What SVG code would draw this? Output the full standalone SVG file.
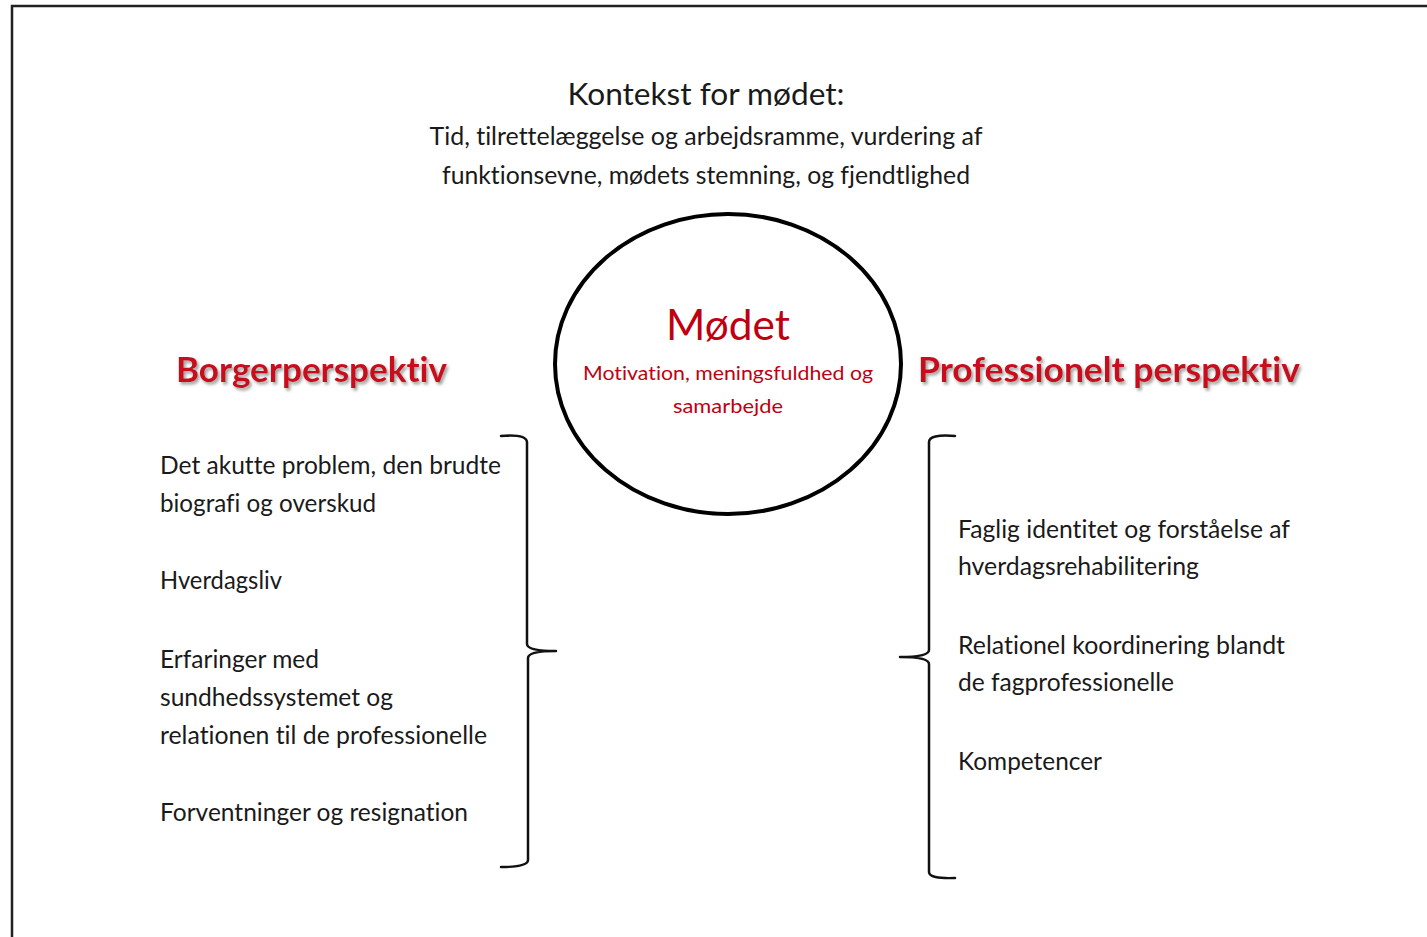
<svg xmlns="http://www.w3.org/2000/svg" width="1427" height="937" viewBox="0 0 1427 937">
<defs>
<filter id="shadow" x="-10%" y="-30%" width="120%" height="160%">
<feDropShadow dx="2" dy="2.5" stdDeviation="1.5" flood-color="#777" flood-opacity="0.7"/>
</filter>
</defs>
<style>
text{font-family:Lato,"Liberation Sans",sans-serif;font-variant-ligatures:none;}
.body{font-size:25px;fill:#1a1a1a;}
.ctx{font-size:25px;fill:#1a1a1a;text-anchor:middle;}
.title{font-size:30px;fill:#1a1a1a;text-anchor:middle;}
.head{font-size:34px;font-weight:bold;fill:#C8101E;filter:url(#shadow);}
.red{fill:#C00010;text-anchor:middle;}
.brace{fill:none;stroke:#111;stroke-width:2.5;stroke-linecap:round;stroke-linejoin:round;}
</style>
<rect width="1427" height="937" fill="#fff"/>
<path d="M12 937 V6 H1427" fill="none" stroke="#222" stroke-width="2.5"/>

<g id="context">
<text class="title" x="706" y="105" textLength="277" lengthAdjust="spacingAndGlyphs">Kontekst for mødet:</text>
<text class="ctx" x="706" y="145" textLength="553" lengthAdjust="spacingAndGlyphs">Tid, tilrettelæggelse og arbejdsramme, vurdering af</text>
<text class="ctx" x="706" y="184" textLength="528" lengthAdjust="spacingAndGlyphs">funktionsevne, mødets stemning, og fjendtlighed</text>
</g>

<g id="modet">
<ellipse cx="728" cy="364" rx="173" ry="150" fill="#fff" stroke="#000" stroke-width="4"/>
<text class="red" x="728" y="340" font-size="43" textLength="124" lengthAdjust="spacingAndGlyphs">Mødet</text>
<text class="red" x="728" y="380" font-size="19" textLength="290" lengthAdjust="spacingAndGlyphs">Motivation, meningsfuldhed og</text>
<text class="red" x="728" y="413" font-size="19" textLength="110" lengthAdjust="spacingAndGlyphs">samarbejde</text>
</g>

<g id="borger">
<text class="head" x="176" y="382" textLength="271" lengthAdjust="spacingAndGlyphs">Borgerperspektiv</text>
<text class="body" x="160" y="474" textLength="341" lengthAdjust="spacingAndGlyphs">Det akutte problem, den brudte</text>
<text class="body" x="160" y="512" textLength="216" lengthAdjust="spacingAndGlyphs">biografi og overskud</text>
<text class="body" x="160" y="589" textLength="122" lengthAdjust="spacingAndGlyphs">Hverdagsliv</text>
<text class="body" x="160" y="668" textLength="159" lengthAdjust="spacingAndGlyphs">Erfaringer med</text>
<text class="body" x="160" y="706" textLength="233" lengthAdjust="spacingAndGlyphs">sundhedssystemet og</text>
<text class="body" x="160" y="744" textLength="327" lengthAdjust="spacingAndGlyphs">relationen til de professionelle</text>
<text class="body" x="160" y="821" textLength="308" lengthAdjust="spacingAndGlyphs">Forventninger og resignation</text>
</g>

<g id="professionelt">
<text class="head" x="918" y="382" textLength="382" lengthAdjust="spacingAndGlyphs">Professionelt perspektiv</text>
<text class="body" x="958" y="538" textLength="332" lengthAdjust="spacingAndGlyphs">Faglig identitet og forståelse af</text>
<text class="body" x="958" y="575" textLength="241" lengthAdjust="spacingAndGlyphs">hverdagsrehabilitering</text>
<text class="body" x="958" y="654" textLength="327" lengthAdjust="spacingAndGlyphs">Relationel koordinering blandt</text>
<text class="body" x="958" y="691" textLength="216" lengthAdjust="spacingAndGlyphs">de fagprofessionelle</text>
<text class="body" x="958" y="770" textLength="144" lengthAdjust="spacingAndGlyphs">Kompetencer</text>
</g>

<g id="connectors">
<path class="brace" d="M501 436 Q526 434 527 442 V644 Q527 651 556 651 Q528 651 528 658 V860 Q528 867 501 867"/>
<path class="brace" d="M955 436 Q929 434 929 442 V650 Q929 657 900 657 Q929 657 929 664 V872 Q929 879 955 878"/>
</g>
</svg>
